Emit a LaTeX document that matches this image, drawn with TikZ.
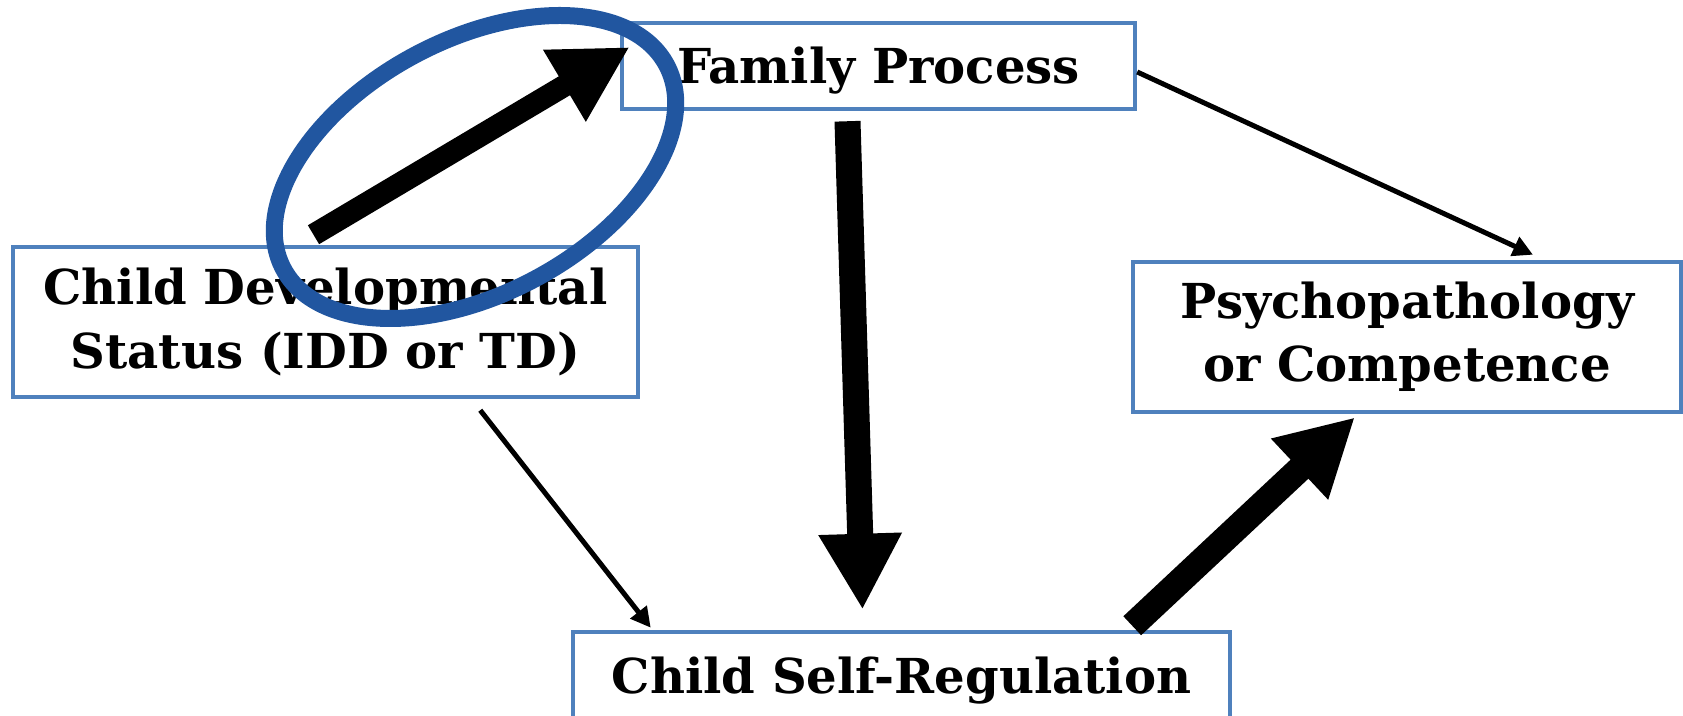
\documentclass[tikz,border=0pt]{standalone}
\usepackage{fontspec}
\setmainfont{DejaVu Serif}
\usetikzlibrary{positioning,arrows.meta,shapes.geometric,calc}

\definecolor{boxblue}{RGB}{79,129,189}
\definecolor{ringblue}{RGB}{33,86,160}

\begin{document}
\begin{tikzpicture}[x=0.1mm, y=-0.1mm,
  every node/.style={font=\bfseries\fontsize{13.7}{18}\selectfont},
  varbox/.style={draw=boxblue, line width=0.45mm, align=center, inner sep=0pt,
    execute at begin node={\rule{0pt}{4.6mm}}},
  bigarrow/.style={line width=2.6mm, -{Triangle[length=7.6mm, width=7.8mm]}},
  thinarrow/.style={line width=0.5mm, -{Triangle[length=2mm, width=2mm]}}]
  \useasboundingbox (0,0) rectangle (1683,716);
  \node[varbox, minimum width=51.3mm, minimum height=8.6mm] (fam) at (878.5,66) {Family Process};
  \node[varbox, minimum width=62.5mm, minimum height=15mm] (dev) at (325.5,322) {Child Developmental\\Status (IDD or TD)};
  \node[varbox, minimum width=54.8mm, minimum height=15mm] (psy) at (1407,337) {Psychopathology\\or Competence};
  \node[varbox, minimum width=65.7mm, minimum height=8.8mm] (selfreg) at (901.5,676) {Child Self-Regulation};
  % paths
  \draw[bigarrow, line width=2.2mm] ($(dev.north)+(-12,-10)$) -- ($(fam.west)+(10,-19)$);
  \draw[bigarrow] ($(fam.south)+(-31,10)$) -- ($(selfreg.north)+(-39,-20)$);
  \draw[bigarrow] ($(selfreg.north east)+(-100,-4)$) -- ($(psy.south)+(-52,3)$);
  \draw[thinarrow] ($(dev.south east)+(-160,11)$) -- ($(selfreg.north west)+(80,-2)$);
  \draw[thinarrow] ($(fam.east)+(0,6)$) -- ($(psy.north)+(126,-5)$);
  % highlight
  \node[ellipse, draw=ringblue, line width=1.7mm, rotate=28, minimum width=43.4mm, minimum height=25.4mm, inner sep=0pt] (ring) at (475,167) {};
\end{tikzpicture}
\end{document}
